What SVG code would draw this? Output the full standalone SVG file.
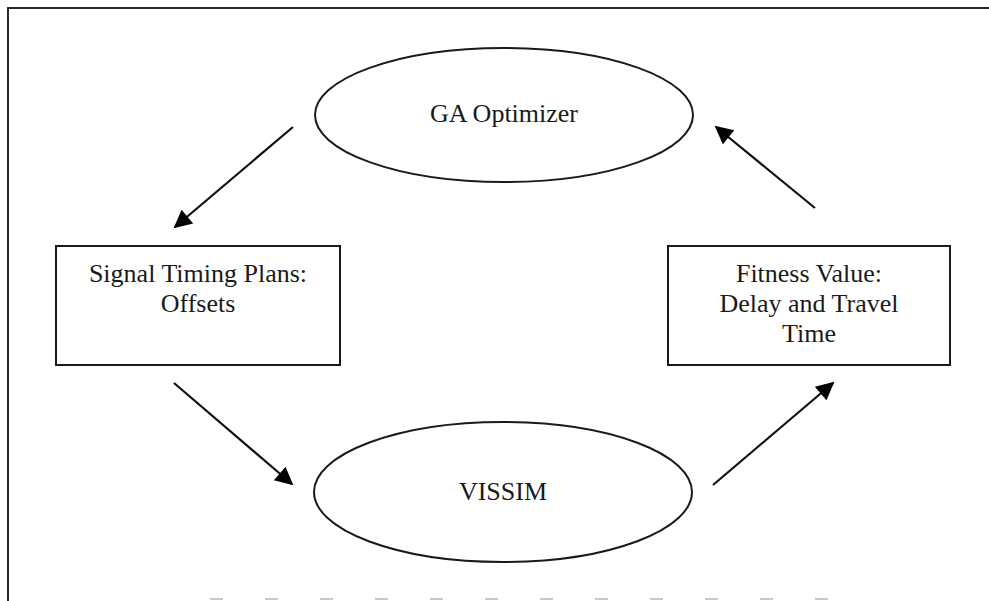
<svg xmlns="http://www.w3.org/2000/svg" width="989" height="601" viewBox="0 0 989 601">
<style>
.shape{fill:#fff;stroke:#1a1a1a;stroke-width:2}
.lbl{font-family:"Liberation Serif","Times New Roman",serif;font-size:26px;fill:#1a1a1a;text-anchor:middle}
.conn{stroke:#111;stroke-width:2.2;fill:none;marker-end:url(#ah)}
.frame{stroke:#2a2a2a;stroke-width:2;fill:none}
</style>
<defs>
<marker id="ah" viewBox="0 0 10 10" refX="9" refY="5" markerUnits="userSpaceOnUse" markerWidth="22" markerHeight="18" orient="auto">
<path d="M0,0 L10,5 L0,10 Z" fill="#000"/>
</marker>
</defs>
<rect width="989" height="601" fill="#fff"/>
<g id="frame">
<path class="frame" d="M8,601 L8,8 L989,8"/>
<line x1="210" y1="599" x2="830" y2="599" stroke="#c8c8c8" stroke-width="2" stroke-dasharray="13 42"/>
</g>
<g id="ga-optimizer">
<ellipse class="shape" cx="504" cy="115" rx="189" ry="67"/>
<text class="lbl" x="504" y="122">GA Optimizer</text>
</g>
<g id="signal-timing">
<rect class="shape" x="56" y="246" width="284" height="119"/>
<text class="lbl" x="198" y="282">Signal Timing Plans:</text>
<text class="lbl" x="198" y="312">Offsets</text>
</g>
<g id="fitness">
<rect class="shape" x="668" y="246" width="282" height="119"/>
<text class="lbl" x="809" y="282">Fitness Value:</text>
<text class="lbl" x="809" y="312">Delay and Travel</text>
<text class="lbl" x="809" y="342">Time</text>
</g>
<g id="vissim">
<ellipse class="shape" cx="503" cy="492" rx="189" ry="70"/>
<text class="lbl" x="503" y="500">VISSIM</text>
</g>
<g id="connectors">
<line class="conn" x1="293" y1="127" x2="175" y2="227"/>
<line class="conn" x1="174" y1="383" x2="292" y2="484"/>
<line class="conn" x1="713" y1="485" x2="833" y2="383"/>
<line class="conn" x1="815" y1="208" x2="716" y2="127"/>
</g>
</svg>
